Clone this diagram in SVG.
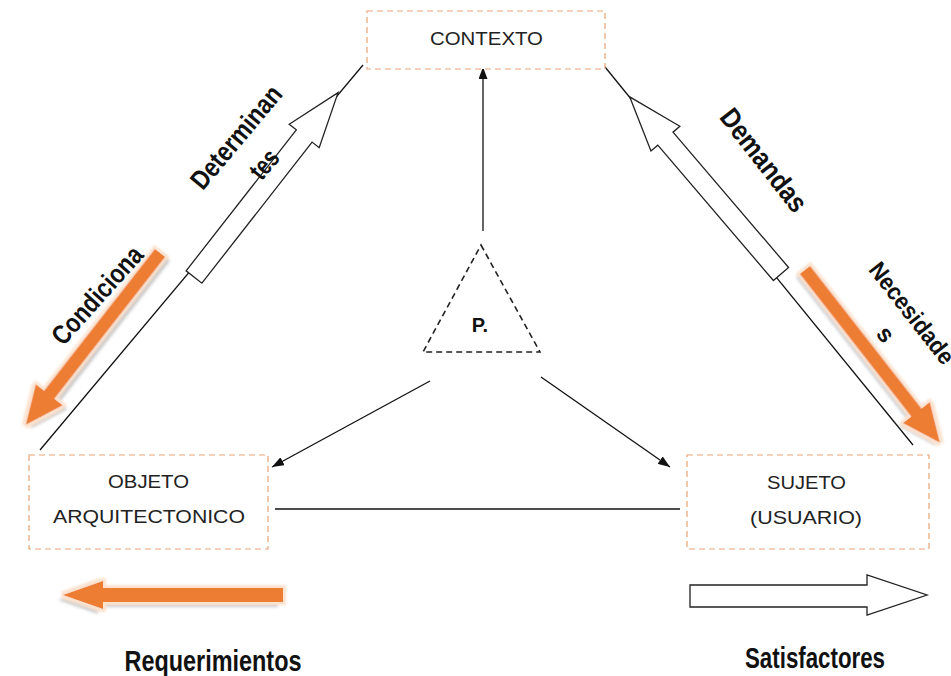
<svg xmlns="http://www.w3.org/2000/svg" width="951" height="676" viewBox="0 0 951 676">
<style>
.box{fill:#fff;stroke:#e8a476;stroke-width:1.2;stroke-dasharray:6 4}
.lbl{font-family:"Liberation Sans",Arial,sans-serif;font-size:18px;fill:#222;text-anchor:middle}
.bold{font-family:"Liberation Sans",Arial,sans-serif;font-weight:bold;font-size:25px;fill:#111;text-anchor:middle}
.conn{stroke:#111;stroke-width:1.3;fill:none}
.outl{fill:#fff;stroke:#222;stroke-width:1.3}
.org{fill:#ed7d31}
</style>
<defs>
<marker id="ah" viewBox="0 0 12 9" refX="12" refY="4.5" markerWidth="12" markerHeight="9" markerUnits="userSpaceOnUse" orient="auto">
<path d="M0,0 L12,4.5 L0,9 z" fill="#111"/>
</marker>
<filter id="shPos" x="-30%" y="-60%" width="160%" height="220%">
<feGaussianBlur in="SourceAlpha" stdDeviation="1.5" result="b"/>
<feOffset in="b" dx="0" dy="5" result="ob"/>
<feFlood flood-color="#a9b4bd" flood-opacity="0.7"/>
<feComposite in2="ob" operator="in" result="shadow"/>
<feMorphology in="SourceAlpha" operator="dilate" radius="3" result="dil"/>
<feGaussianBlur in="dil" stdDeviation="1" result="dilb"/>
<feFlood flood-color="#fbe2cf"/>
<feComposite in2="dilb" operator="in" result="halo"/>
<feMerge><feMergeNode in="shadow"/><feMergeNode in="halo"/><feMergeNode in="SourceGraphic"/></feMerge>
</filter>
<filter id="shNeg" x="-30%" y="-60%" width="160%" height="220%">
<feGaussianBlur in="SourceAlpha" stdDeviation="1.5" result="b"/>
<feOffset in="b" dx="0" dy="-6" result="ob"/>
<feFlood flood-color="#a9a9a9" flood-opacity="0.7"/>
<feComposite in2="ob" operator="in" result="shadow"/>
<feMorphology in="SourceAlpha" operator="dilate" radius="3" result="dil"/>
<feGaussianBlur in="dil" stdDeviation="1" result="dilb"/>
<feFlood flood-color="#fbe2cf"/>
<feComposite in2="dilb" operator="in" result="halo"/>
<feMerge><feMergeNode in="shadow"/><feMergeNode in="halo"/><feMergeNode in="SourceGraphic"/></feMerge>
</filter>
<filter id="shReq" x="-30%" y="-60%" width="160%" height="220%">
<feGaussianBlur in="SourceAlpha" stdDeviation="1.5" result="b"/>
<feOffset in="b" dx="-5" dy="5" result="ob"/>
<feFlood flood-color="#b5b5b5" flood-opacity="0.7"/>
<feComposite in2="ob" operator="in" result="shadow"/>
<feMorphology in="SourceAlpha" operator="dilate" radius="3" result="dil"/>
<feGaussianBlur in="dil" stdDeviation="1" result="dilb"/>
<feFlood flood-color="#fbe2cf"/>
<feComposite in2="dilb" operator="in" result="halo"/>
<feMerge><feMergeNode in="shadow"/><feMergeNode in="halo"/><feMergeNode in="SourceGraphic"/></feMerge>
</filter>
</defs>
<rect width="951" height="676" fill="#fff"/>

<g id="connectors">
<line class="conn" x1="40" y1="450" x2="363" y2="65"/>
<line class="conn" x1="605" y1="67" x2="913" y2="445"/>
<line class="conn" x1="275" y1="509" x2="680" y2="509"/>
<line class="conn" x1="483" y1="231" x2="483" y2="67" marker-end="url(#ah)"/>
<line class="conn" x1="430" y1="381" x2="272" y2="467" marker-end="url(#ah)"/>
<line class="conn" x1="541" y1="377" x2="670" y2="467" marker-end="url(#ah)"/>
</g>

<g id="node-contexto">
<rect class="box" x="367" y="11" width="238" height="58"/>
<text class="lbl" x="486.5" y="45" textLength="113" lengthAdjust="spacingAndGlyphs">CONTEXTO</text>
</g>

<g id="node-objeto">
<rect class="box" x="29" y="455" width="239" height="94"/>
<text class="lbl" x="148.5" y="488" textLength="81" lengthAdjust="spacingAndGlyphs">OBJETO</text>
<text class="lbl" x="149" y="523" textLength="192" lengthAdjust="spacingAndGlyphs">ARQUITECTONICO</text>
</g>

<g id="node-sujeto">
<rect class="box" x="687" y="455" width="242" height="94"/>
<text class="lbl" x="806.5" y="489" textLength="79" lengthAdjust="spacingAndGlyphs">SUJETO</text>
<text class="lbl" x="806" y="524" textLength="112" lengthAdjust="spacingAndGlyphs">(USUARIO)</text>
</g>

<g id="node-p">
<polygon points="481,245 540,352 423,352" fill="#fff" stroke="#222" stroke-width="1.6" stroke-dasharray="6 4"/>
<text class="bold" x="480" y="332" style="font-size:20px">P.</text>
</g>

<g id="arrow-determinantes">
<polygon class="outl" transform="translate(194,277) rotate(-52)" points="0,-10 179,-10 179,-19 234,0 179,19 179,10 0,10"/>
<text class="bold" transform="translate(236,137) rotate(-50)" dy="0.35em" style="font-size:27px" textLength="126" lengthAdjust="spacingAndGlyphs">Determinan</text>
<text class="bold" transform="translate(264,164) rotate(-50)" dy="0.35em" style="font-size:27px" textLength="30" lengthAdjust="spacingAndGlyphs">tes</text>
</g>

<g id="arrow-demandas">
<polygon class="outl" transform="translate(781,274) rotate(-130.5)" points="0,-10 178,-10 178,-19 233,0 178,19 178,10 0,10"/>
<text class="bold" transform="translate(764,160) rotate(52)" dy="0.35em" style="font-size:28px" textLength="123" lengthAdjust="spacingAndGlyphs">Demandas</text>
</g>

<g id="arrow-condiciona">
<polygon class="org" filter="url(#shNeg)" transform="translate(160,253) rotate(128)" points="0,-6.5 180,-6.5 180,-17 218,0 180,17 180,6.5 0,6.5"/>
<text class="bold" transform="translate(97,295) rotate(-48)" dy="0.35em" style="font-size:27px" textLength="122" lengthAdjust="spacingAndGlyphs">Condiciona</text>
</g>

<g id="arrow-necesidades">
<polygon class="org" filter="url(#shPos)" transform="translate(805,270) rotate(52)" points="0,-6.5 181,-6.5 181,-17 219,0 181,17 181,6.5 0,6.5"/>
<text class="bold" transform="translate(912,313) rotate(52)" dy="0.35em" style="font-size:24px" textLength="122" lengthAdjust="spacingAndGlyphs">Necesidade</text>
<text class="bold" transform="translate(886,334) rotate(52)" dy="0.35em" style="font-size:24px">s</text>
</g>

<g id="arrow-requerimientos">
<polygon class="org" filter="url(#shReq)" points="283,588 103,588 103,581 63,595 103,609 103,602 283,602"/>
<text class="bold" x="213" y="671" style="font-size:29px" textLength="177" lengthAdjust="spacingAndGlyphs">Requerimientos</text>
</g>

<g id="arrow-satisfactores">
<polygon class="outl" points="690,585 867,585 867,575 927,595 867,615 867,607 690,607"/>
<text class="bold" x="815" y="668" style="font-size:29px" textLength="140" lengthAdjust="spacingAndGlyphs">Satisfactores</text>
</g>
</svg>
